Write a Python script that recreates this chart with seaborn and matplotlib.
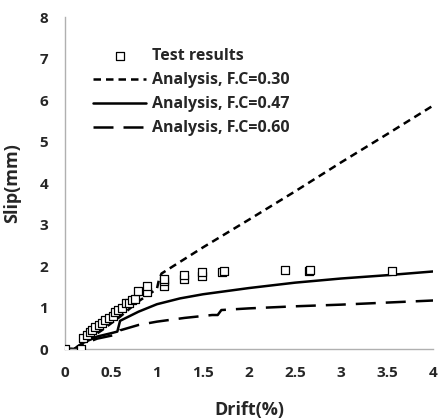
import matplotlib
matplotlib.use("Agg")
import matplotlib.pyplot as plt
import seaborn as sns
import pandas as pd

test_drift = [0.0, 0.18, 0.2, 0.24, 0.27, 0.3, 0.33, 0.37, 0.4, 0.44, 0.48, 0.52, 0.55, 0.58, 0.62, 0.66, 0.7, 0.73, 0.76, 0.79, 0.89, 0.89, 1.08, 1.08, 1.08, 1.29, 1.29, 1.49, 1.49, 1.71, 1.73, 2.39, 2.65, 2.66, 3.55]
test_slip = [0.0, 0.0, 0.26, 0.35, 0.42, 0.45, 0.52, 0.58, 0.62, 0.7, 0.76, 0.8, 0.9, 0.95, 1.0, 1.1, 1.12, 1.18, 1.2, 1.39, 1.37, 1.51, 1.52, 1.64, 1.7, 1.68, 1.78, 1.76, 1.86, 1.86, 1.88, 1.9, 1.87, 1.9, 1.87]

fc30_drift = [0.0, 0.1, 0.2, 0.4, 0.6, 0.8, 1.0, 1.02, 1.05, 1.5, 2.0, 2.5, 3.0, 3.5, 4.0]
fc30_slip = [0.0, 0.0, 0.15, 0.45, 0.78, 1.15, 1.45, 1.65, 1.82, 2.45, 3.12, 3.8, 4.5, 5.18, 5.87]

fc47_drift = [0.0, 0.1, 0.2, 0.35, 0.5, 0.57, 0.6, 0.8, 1.0, 1.25, 1.5, 2.0, 2.5, 3.0, 3.5, 4.0]
fc47_slip = [0.0, 0.0, 0.15, 0.3, 0.38, 0.42, 0.68, 0.9, 1.08, 1.22, 1.32, 1.47, 1.6, 1.7, 1.78, 1.87]

fc60_drift = [0.0, 0.1, 0.2, 0.35, 0.5, 0.57, 0.6, 0.8, 1.0, 1.3, 1.6, 1.66, 1.7, 2.0, 2.5, 3.0, 3.5, 4.0]
fc60_slip = [0.0, 0.0, 0.12, 0.25, 0.32, 0.35, 0.45, 0.58, 0.66, 0.75, 0.82, 0.82, 0.94, 0.98, 1.03, 1.07, 1.12, 1.17]

x_ticks = [0, 0.5, 1, 1.5, 2, 2.5, 3, 3.5, 4]
x_ticklabels = ["0", "0.5", "1", "1.5", "2", "2.5", "3", "3.5", "4"]
y_ticks = [0, 1, 2, 3, 4, 5, 6, 7, 8]

sns.set_style("white")
plt.rcParams['font.family'] = ['Open Sans', 'DejaVu Sans']

fig = plt.figure(figsize=(4.38, 4.19), dpi=100)
ax = fig.add_axes([0.148, 0.167, 0.841, 0.792])

sns.scatterplot(x=test_drift, y=test_slip, ax=ax, marker='s', s=40,
                facecolor='white', edgecolor='black', linewidth=0.9,
                label='Test results', zorder=3)
sns.lineplot(x=fc30_drift, y=fc30_slip, ax=ax, color='black', linewidth=1.8,
             linestyle=(0, (3, 2)), label='Analysis, F.C=0.30', sort=False, estimator=None)
sns.lineplot(x=fc47_drift, y=fc47_slip, ax=ax, color='black', linewidth=1.8,
             linestyle='-', label='Analysis, F.C=0.47', sort=False, estimator=None)
sns.lineplot(x=fc60_drift, y=fc60_slip, ax=ax, color='black', linewidth=1.8,
             linestyle=(0, (8, 4)), label='Analysis, F.C=0.60', sort=False, estimator=None)

ax.set_xlim(0, 4)
ax.set_ylim(0, 8)
ax.set_xticks(x_ticks)
ax.set_xticklabels(x_ticklabels)
ax.set_yticks(y_ticks)
ax.tick_params(axis='both', length=0, labelsize=11, pad=12)
for lab in ax.get_xticklabels() + ax.get_yticklabels():
    lab.set_fontweight('bold')

for s in ['top', 'right']:
    ax.spines[s].set_visible(False)
for s in ['left', 'bottom']:
    ax.spines[s].set_color('#b0b0b0')
    ax.spines[s].set_linewidth(1.0)

ax.set_xlabel('Drift(%)', fontsize=13, fontweight='bold', labelpad=15)
ax.set_ylabel('Slip(mm)', fontsize=13, fontweight='bold', labelpad=13)

leg = ax.legend(loc='upper left', bbox_to_anchor=(0.06, 0.925), frameon=False,
                fontsize=11.5, handlelength=3.3, handletextpad=0.4, labelspacing=0.5,
                borderaxespad=0)
for t in leg.get_texts():
    t.set_fontweight('bold')

fig.savefig('out.png', dpi=100)
